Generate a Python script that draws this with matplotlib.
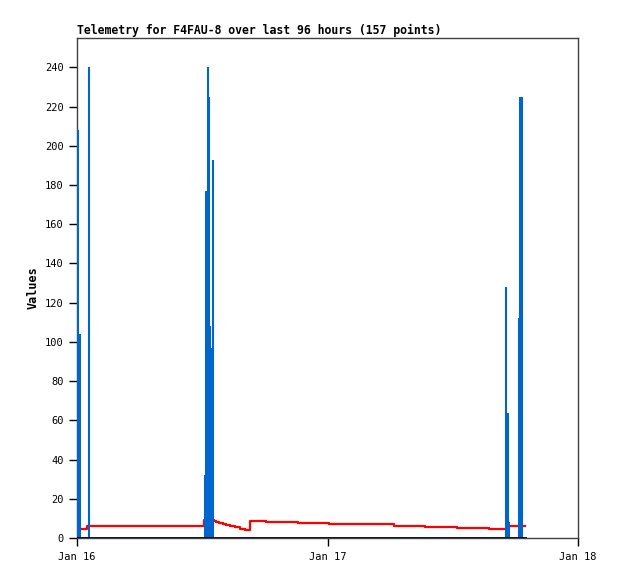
import numpy as np
import pandas as pd
import matplotlib
matplotlib.use("Agg")
import matplotlib.pyplot as plt
import matplotlib.dates as mdates

plt.rcParams['font.family'] = ['DejaVu Sans Mono', 'DejaVu Sans']

START = pd.Timestamp("2024-01-16 00:00")

# blue impulses (hours after Jan 16 00:00, value)
blue_hours = [0.0, 0.13, 0.27, 1.12,
              12.22, 12.32, 12.51, 12.64, 12.77, 12.86, 12.99,
              41.09, 41.25, 41.42, 42.34, 42.44, 42.55, 42.67]
blue_vals = [52, 208, 104, 240,
             32, 177, 240, 225, 108, 97, 193,
             128, 64, 8, 112, 225, 225, 225]

# red step series
red_hours = [0.0, 0.93, 12.2, 13.1, 13.29, 13.61, 13.99, 14.31, 14.7, 15.11,
             15.59, 16.06, 16.54, 18.14, 21.13, 24.19, 27.25, 30.41, 33.37,
             36.43, 39.49, 41.4, 42.9]
red_vals = [4.8, 6.0, 9.0, 8.85, 8.3, 7.8, 7.15, 6.6, 6.1, 5.45,
            4.75, 4.1, 8.85, 8.3, 7.8, 7.3, 6.9, 6.3, 5.7,
            5.1, 4.6, 6.0, 6.0]

# black zero series
zero_hours = [0.0, 42.9]
zero_vals = [0, 0]


def to_time(hours):
    return [START + pd.Timedelta(hours=h) for h in hours]


def main():
    fig = plt.figure(figsize=(6.18, 5.79), dpi=100)
    ax = fig.add_axes([0.1246, 0.0708, 0.8107, 0.8636])

    ax.step(to_time(red_hours), red_vals, where="post", color="#ff0000", linewidth=1.6, zorder=2)
    ax.vlines(to_time(blue_hours), 0, blue_vals, colors="#0066cc", linewidth=1.5, zorder=3)
    ax.plot(to_time(zero_hours), zero_vals, color="black", linewidth=2.0, zorder=4)

    ax.set_xlim(START, START + pd.Timedelta(hours=48))
    ax.set_ylim(0, 255)
    ax.set_yticks(np.arange(0, 241, 20))
    ax.xaxis.set_major_locator(mdates.DayLocator())
    ax.xaxis.set_major_formatter(mdates.DateFormatter("%b %d"))

    ax.tick_params(direction="out", length=6, width=1, labelsize=7.5, colors="black")
    ax.tick_params(axis="x", pad=4)
    for s in ax.spines.values():
        s.set_color("#404040")
        s.set_linewidth(1)

    ax.set_ylabel("Values", fontsize=8.5, fontweight="bold", labelpad=4)
    ax.set_title("Telemetry for F4FAU-8 over last 96 hours (157 points)",
                 loc="left", fontsize=8.3, fontweight="bold", pad=3)

    fig.savefig("out.png", dpi=100)
    plt.close(fig)


if __name__ == "__main__":
    main()
